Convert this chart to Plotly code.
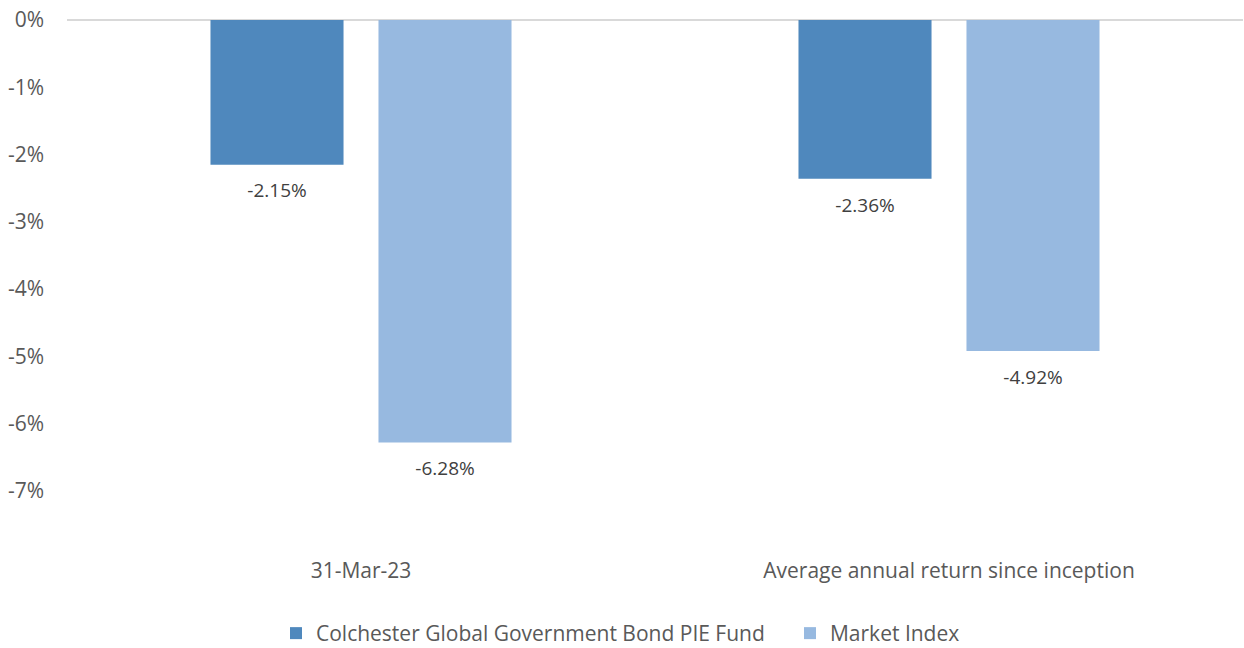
import plotly.graph_objects as go

categories = ["31-Mar-23", "Average annual return since inception"]
fund_values = [-2.15, -2.36]
index_values = [-6.28, -4.92]
series_names = ["Colchester Global Government Bond PIE Fund", "Market Index"]
y_ticks = [0, -1, -2, -3, -4, -5, -6, -7]

FONT = "Open Sans"
FS = 21
FS_LABEL = 19
colors = ["#4F88BD", "#97B9E0"]
series = [fund_values, index_values]
GAP = 0.4286

fig = go.Figure()
for name, vals, col in zip(series_names, series, colors):
    fig.add_trace(go.Bar(
        x=categories, y=vals, name=name,
        marker=dict(color=col, line=dict(width=0)),
        offsetgroup=name,
    ))
# data labels below the bars (invisible markers push the text down)
for name, vals in zip(series_names, series):
    fig.add_trace(go.Scatter(
        x=categories, y=vals, mode="markers+text", showlegend=False,
        offsetgroup=name, hoverinfo="skip",
        marker=dict(size=28, opacity=0, color="white"),
        text=[f"{v:.2f}%" for v in vals], textposition="bottom center",
        textfont=dict(family=FONT, size=FS_LABEL, color="#404040"),
        cliponaxis=False,
    ))

fig.update_layout(
    width=1244, height=648,
    margin=dict(l=67, r=1, t=20, b=157, autoexpand=False),
    paper_bgcolor="white", plot_bgcolor="white",
    barmode="group", bargap=GAP, bargroupgap=0.208,
    scattermode="group", scattergap=GAP,
    font=dict(family=FONT, size=FS, color="#595959"),
    showlegend=True,
    legend=dict(orientation="h", x=0.1777, xanchor="left", y=-0.3025, yanchor="middle",
                entrywidth=469,
                font=dict(family=FONT, size=FS, color="#595959"),
                itemclick=False, traceorder="normal"),
)
fig.update_yaxes(
    range=[-7, 0], tickvals=y_ticks, ticktext=[f"{v}%" for v in y_ticks],
    showgrid=False, zeroline=True, zerolinecolor="#D9D9D9", zerolinewidth=2,
    showline=False, ticks="", tickfont=dict(family=FONT, size=FS, color="#595959"),
    ticklabelstandoff=22, automargin=False, ticklabeloverflow="allow",
)
fig.update_xaxes(
    showgrid=False, showline=False, ticks="", ticklabelstandoff=65, automargin=False,
    tickfont=dict(family=FONT, size=FS, color="#595959"), ticklabeloverflow="allow",
)

fig.write_html("out.html", config={"displayModeBar": False},
               post_script="document.body.style.margin='0';")
